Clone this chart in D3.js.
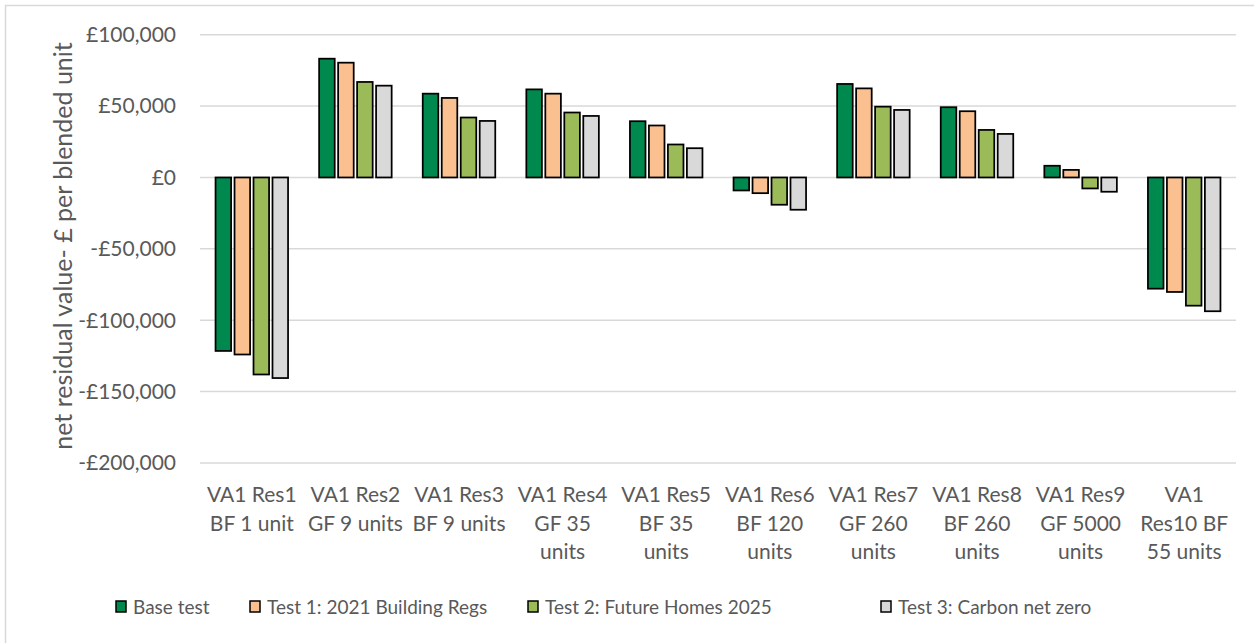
<!DOCTYPE html>
<html>
<head>
<meta charset="utf-8">
<script src="https://cdn.jsdelivr.net/npm/d3@7"></script>
<style>
  body { margin: 0; background: #fff; }
  text { font-family: Lato, "Open Sans", sans-serif; fill: #595959; }
</style>
</head>
<body>
<div id="viz"></div>
<script>
let categories = [
  "VA1 Res1\nBF 1 unit",
  "VA1 Res2\nGF 9 units",
  "VA1 Res3\nBF 9 units",
  "VA1 Res4\nGF 35\nunits",
  "VA1 Res5\nBF 35\nunits",
  "VA1 Res6\nBF 120\nunits",
  "VA1 Res7\nGF 260\nunits",
  "VA1 Res8\nBF 260\nunits",
  "VA1 Res9\nGF 5000\nunits",
  "VA1\nRes10 BF\n55 units"
];
let seriesNames = ["Base test", "Test 1: 2021 Building Regs", "Test 2: Future Homes 2025", "Test 3: Carbon net zero"];
let baseTest = [-121500, 83200, 58700, 61700, 39400, -9100, 65500, 49200, 8200, -77900];
let test1 = [-124000, 80400, 55700, 58700, 36400, -11000, 62400, 46400, 5300, -80200];
let test2 = [-138000, 66900, 42000, 45500, 23100, -19100, 49600, 33300, -7700, -89800];
let test3 = [-140500, 64300, 39600, 43100, 20500, -22600, 47300, 30500, -10000, -93700];
let yTicks = [100000, 50000, 0, -50000, -100000, -150000, -200000];
let colors = ["#00894F", "#FAC090", "#9BBB59", "#D9D9D9"];

let allSeries = [baseTest, test1, test2, test3];

let w = 1254;
let h = 643;

const svg = d3.select("#viz")
  .append("svg")
  .attr("width", w)
  .attr("height", h);

// chart border
svg.append("rect")
  .attr("x", 5.5)
  .attr("y", 5.5)
  .attr("width", w + 20)
  .attr("height", h + 20)
  .attr("fill", "none")
  .attr("stroke", "#D9D9D9")
  .attr("stroke-width", 1.5);

const xScale = d3.scaleBand()
  .domain(d3.range(categories.length))
  .range([200, 1236])
  .paddingInner(0.3)
  .paddingOuter(0.15);

const xSub = d3.scaleBand()
  .domain(d3.range(seriesNames.length))
  .range([0, xScale.bandwidth()])
  .paddingInner(0.18);

const yScale = d3.scaleLinear()
  .domain([-200000, 100000])
  .range([463, 34.7]);

let fmt = v => (v < 0 ? "-" : "") + "£" + d3.format(",")(Math.abs(v));

// gridlines
svg.append("g")
  .selectAll("line")
  .data(yTicks)
  .enter()
  .append("line")
  .attr("x1", 200)
  .attr("x2", 1236)
  .attr("y1", d => yScale(d))
  .attr("y2", d => yScale(d))
  .attr("stroke", "#D9D9D9")
  .attr("stroke-width", 1.5);

// y tick labels
svg.append("g")
  .selectAll("text")
  .data(yTicks)
  .enter()
  .append("text")
  .attr("x", 176)
  .attr("y", d => yScale(d))
  .attr("dy", "0.35em")
  .attr("text-anchor", "end")
  .attr("font-size", 21)
  .text(d => fmt(d));

// y axis title
svg.append("text")
  .attr("transform", "translate(63," + 246 + ") rotate(-90)")
  .attr("text-anchor", "middle")
  .attr("dy", "0.35em")
  .attr("font-size", 25)
  .text("net residual value- £ per blended unit");

// bars
let barData = [];
allSeries.forEach((s, si) => {
  s.forEach((v, ci) => barData.push({ ci: ci, si: si, v: v }));
});

svg.append("g")
  .selectAll("rect")
  .data(barData)
  .enter()
  .append("rect")
  .attr("x", d => xScale(d.ci) + xSub(d.si))
  .attr("y", d => yScale(Math.max(0, d.v)))
  .attr("width", xSub.bandwidth())
  .attr("height", d => Math.abs(yScale(d.v) - yScale(0)))
  .attr("fill", d => colors[d.si])
  .attr("stroke", "#000")
  .attr("stroke-width", 1.75);

// x labels
let xLabels = svg.append("g");
categories.forEach((c, i) => {
  let t = xLabels.append("text")
    .attr("text-anchor", "middle")
    .attr("font-size", 21);
  c.split("\n").forEach((line, li) => {
    t.append("tspan")
      .attr("x", xScale(i) + xScale.bandwidth() / 2)
      .attr("y", 502 + li * 28.5)
      .text(line);
  });
});

// legend
let legendX = [116, 250, 528, 881];
let legend = svg.append("g");
seriesNames.forEach((name, i) => {
  legend.append("rect")
    .attr("x", legendX[i])
    .attr("y", 601)
    .attr("width", 10)
    .attr("height", 11)
    .attr("fill", colors[i])
    .attr("stroke", "#000")
    .attr("stroke-width", 1.5);
  legend.append("text")
    .attr("x", legendX[i] + 17)
    .attr("y", 607)
    .attr("dy", "0.35em")
    .attr("font-size", 19)
    .text(name);
});
</script>
</body>
</html>
